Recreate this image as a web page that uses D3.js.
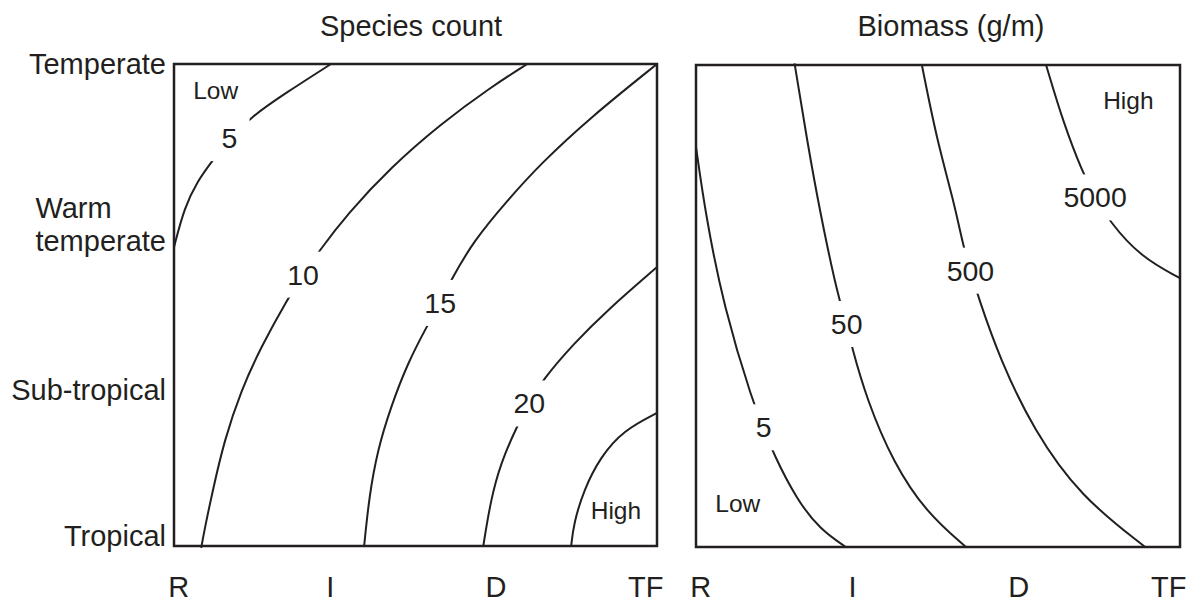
<!DOCTYPE html>
<html>
<head>
<meta charset="utf-8">
<script src="https://cdn.jsdelivr.net/npm/d3@7"></script>
<style>
  html, body { margin: 0; padding: 0; background: #fff; }
  svg { display: block; }
  text { font-family: "Liberation Sans", Arial, sans-serif; fill: #231f20; }
</style>
</head>
<body>
<svg id="chart" width="1194" height="602"></svg>
<script>
// ---------- data ----------
const xCategories = ["R", "I", "D", "TF"];
const xTickPos = [0.03, 0.97, 2.0, 2.93];
const yCategories = ["Tropical", "Sub-tropical", "Warm temperate", "Temperate"];
const yTickPos = [0.06, 0.97, 2.0, 3.0];

const panelTitles = ["Species count", "Biomass (g/m)"];

// Species count contours (x: R..TF = 0..3, y: Tropical..Temperate = 0..3)
const speciesLevels = ["5", "10", "15", "20", ""];
const speciesContour5 = [[0, 1.860], [0.065, 2.109], [0.148, 2.275], [0.231, 2.388], [0.345, 2.539], [0.482, 2.672], [0.685, 2.814], [0.975, 3.0]];
const speciesContour10 = [[0.169, -0.012], [0.189, 0.099], [0.241, 0.348], [0.313, 0.659], [0.417, 0.970], [0.541, 1.239], [0.706, 1.540], [0.802, 1.689], [0.896, 1.829], [1.078, 2.068], [1.347, 2.357], [1.657, 2.627], [1.967, 2.855], [2.194, 3.0]];
const speciesContour15 = [[1.181, 0], [1.212, 0.306], [1.264, 0.597], [1.347, 0.866], [1.450, 1.135], [1.568, 1.363], [1.653, 1.513], [1.719, 1.653], [1.863, 1.902], [2.070, 2.150], [2.277, 2.379], [2.587, 2.668], [3.0, 3.0]];
const speciesContour20 = [[1.921, 0], [1.967, 0.286], [2.029, 0.514], [2.128, 0.742], [2.207, 0.887], [2.287, 1.032], [2.483, 1.260], [2.690, 1.467], [3.0, 1.736]];
const speciesContourHigh = [[2.467, 0], [2.483, 0.141], [2.545, 0.348], [2.649, 0.555], [2.793, 0.721], [3.0, 0.828]];
const speciesLabelPos = [[0.345, 2.539], [0.802, 1.689], [1.653, 1.513], [2.207, 0.887], null];
const speciesNotes = [{ text: "Low", pos: [0.259, 2.834] }, { text: "High", pos: [2.745, 0.219] }];

// Biomass contours
const biomassLevels = ["5", "50", "500", "5000"];
const biomassContour5 = [[0, 2.491], [0.058, 2.077], [0.171, 1.496], [0.357, 0.885], [0.419, 0.745], [0.477, 0.585], [0.625, 0.294], [0.770, 0.108], [0.929, 0]];
const biomassContour50 = [[0.611, 3.01], [0.688, 2.533], [0.770, 2.077], [0.880, 1.558], [0.934, 1.388], [0.962, 1.258], [1.059, 0.916], [1.224, 0.522], [1.431, 0.211], [1.673, 0]];
const biomassContour500 = [[1.400, 3.0], [1.493, 2.533], [1.596, 2.160], [1.658, 1.866], [1.701, 1.720], [1.745, 1.569], [1.885, 1.165], [2.092, 0.730], [2.381, 0.315], [2.784, 0]];
const biomassContour5000 = [[2.170, 3.0], [2.278, 2.637], [2.398, 2.326], [2.474, 2.176], [2.561, 2.029], [2.753, 1.807], [3.0, 1.673]];
const biomassLabelPos = [[0.419, 0.745], [0.934, 1.388], [1.701, 1.720], [2.474, 2.176]];
const biomassNotes = [{ text: "High", pos: [2.680, 2.782] }, { text: "Low", pos: [0.259, 0.268] }];

// ---------- drawing ----------
const svg = d3.select("#chart");
svg.append("rect").attr("width", 1194).attr("height", 602).attr("fill", "#fff");

const ink = "#231f20";
const bigFont = 29;
const noteFont = 24.5;

const panels = [
  {
    title: panelTitles[0], titleX: 411, left: 174, right: 657, top: 64, bottom: 546,
    contours: [speciesContour5, speciesContour10, speciesContour15, speciesContour20, speciesContourHigh],
    levels: speciesLevels, labelPos: speciesLabelPos, notes: speciesNotes, yLabels: true
  },
  {
    title: panelTitles[1], titleX: 951, left: 696, right: 1180, top: 65, bottom: 547,
    contours: [biomassContour5, biomassContour50, biomassContour500, biomassContour5000],
    levels: biomassLevels, labelPos: biomassLabelPos, notes: biomassNotes, yLabels: false
  }
];

panels.forEach(p => {
  const x = d3.scaleLinear().domain([0, 3]).range([p.left, p.right]);
  const y = d3.scaleLinear().domain([0, 3]).range([p.bottom, p.top]);
  const g = svg.append("g");

  // contours
  const line = d3.line()
    .x(d => x(d[0]))
    .y(d => y(d[1]))
    .curve(d3.curveBasis);

  g.selectAll("path.contour")
    .data(p.contours)
    .join("path")
    .attr("class", "contour")
    .attr("d", line)
    .attr("fill", "none")
    .attr("stroke", ink)
    .attr("stroke-width", 2);

  // contour labels with a white gap cut into the line
  p.labelPos.forEach((pos, i) => {
    if (!pos) return;
    const t = g.append("text")
      .attr("x", x(pos[0])).attr("y", y(pos[1]))
      .attr("text-anchor", "middle").attr("dominant-baseline", "central")
      .attr("font-size", 28.5)
      .text(p.levels[i]);
    const w = Math.max(t.node().getComputedTextLength() + 8, 40);
    const h = 46;
    g.insert("rect", "text")
      .attr("x", x(pos[0]) - w / 2).attr("y", y(pos[1]) - h / 2)
      .attr("width", w).attr("height", h)
      .attr("fill", "#fff");
  });

  // frame
  g.append("rect")
    .attr("x", x(0)).attr("y", y(3))
    .attr("width", x(3) - x(0)).attr("height", y(0) - y(3))
    .attr("fill", "none").attr("stroke", ink).attr("stroke-width", 2.5);

  // Low / High notes
  p.notes.forEach(n => {
    g.append("text")
      .attr("x", x(n.pos[0])).attr("y", y(n.pos[1]))
      .attr("text-anchor", "middle").attr("dominant-baseline", "central")
      .attr("font-size", noteFont)
      .text(n.text);
  });

  // title
  svg.append("text")
    .attr("x", p.titleX).attr("y", 36)
    .attr("text-anchor", "middle")
    .attr("font-size", bigFont)
    .text(p.title);

  // x tick labels
  xCategories.forEach((c, i) => {
    svg.append("text")
      .attr("x", x(xTickPos[i])).attr("y", 597)
      .attr("text-anchor", "middle")
      .attr("font-size", bigFont)
      .text(c);
  });

  // y tick labels
  if (p.yLabels) {
    const lx = p.left - 8;
    yCategories.forEach((c, i) => {
      const yy = y(yTickPos[i]);
      if (c === "Warm temperate") {
        const t2 = svg.append("text")
          .attr("x", lx).attr("y", yy + 16)
          .attr("text-anchor", "end").attr("dominant-baseline", "central")
          .attr("font-size", bigFont)
          .text("temperate");
        const w = t2.node().getComputedTextLength();
        svg.append("text")
          .attr("x", lx - w).attr("y", yy - 17)
          .attr("text-anchor", "start").attr("dominant-baseline", "central")
          .attr("font-size", bigFont)
          .text("Warm");
      } else {
        svg.append("text")
          .attr("x", lx).attr("y", yy)
          .attr("text-anchor", "end").attr("dominant-baseline", "central")
          .attr("font-size", bigFont)
          .text(c);
      }
    });
  }
});
</script>
</body>
</html>
